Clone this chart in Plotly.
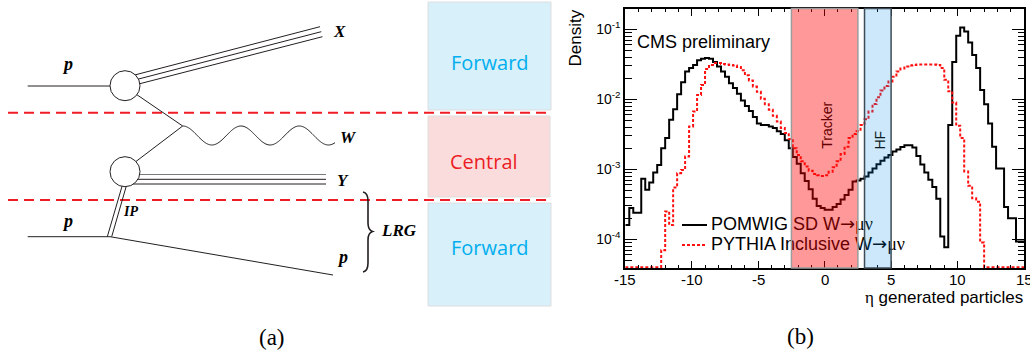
import numpy as np
import plotly.graph_objects as go

# ---------------- data ----------------
ETA_MIN, ETA_MAX, BIN_WIDTH = -15.0, 15.0, 0.3
N_BINS = 100

POMWIG_SD = [
    1.6e-4, 2.8e-4, 2.4e-4, 2.4e-4, 7.3e-4, 5.1e-4, 6.5e-4, 9.0e-4, 1.15e-3, 2.0e-3,
    2.8e-3, 5.1e-3, 7.2e-3, 1.18e-2, 1.75e-2, 2.5e-2, 2.8e-2, 3.1e-2, 3.6e-2, 3.8e-2,
    3.9e-2, 3.8e-2, 3.4e-2, 2.95e-2, 2.5e-2, 2.1e-2, 1.7e-2, 1.45e-2, 1.2e-2, 9.6e-3,
    8.0e-3, 6.8e-3, 5.6e-3, 4.5e-3, 4.3e-3, 4.3e-3, 4.1e-3, 3.9e-3, 3.5e-3, 3.2e-3,
    2.6e-3, 2.0e-3, 1.5e-3, 1.2e-3, 8.8e-4, 6.8e-4, 5.2e-4, 3.8e-4, 3.0e-4, 2.8e-4,
    2.65e-4, 2.65e-4, 2.9e-4, 3.2e-4, 3.7e-4, 4.3e-4, 5.1e-4, 6.7e-4, 6.9e-4, 7.3e-4,
    7.9e-4, 9.0e-4, 1.03e-3, 1.18e-3, 1.33e-3, 1.48e-3, 1.6e-3, 1.8e-3, 1.92e-3, 2.08e-3,
    2.2e-3, 2.2e-3, 2.05e-3, 1.55e-3, 1.17e-3, 9.0e-4, 7.1e-4, 5.6e-4, 3.8e-4, 1.1e-4,
    7.7e-5, 4.3e-3, 3.4e-2, 8.1e-2, 1.06e-1, 9.3e-2, 6.5e-2, 4.3e-2, 2.8e-2, 1.36e-2,
    8.5e-3, 4.5e-3, 2.1e-3, 1.03e-3, 1.03e-3, 2.9e-4, 2.0e-4, 2.0e-4, 9.3e-5, 9.3e-5,
]

PYTHIA_INCL = [
    0, 0, 0, 0, 0, 0, 0, 0, 0, 7.0e-5,
    2.5e-4, 1.6e-4, 5.5e-4, 8.8e-4, 9.8e-4, 1.52e-3, 4.1e-3, 6.7e-3, 1.15e-2, 1.6e-2,
    2.7e-2, 3.1e-2, 3.3e-2, 3.3e-2, 3.2e-2, 3.15e-2, 3.1e-2, 3.05e-2, 2.9e-2, 2.6e-2,
    2.2e-2, 1.85e-2, 1.52e-2, 1.28e-2, 1.02e-2, 8.5e-3, 7.1e-3, 5.8e-3, 4.8e-3, 3.9e-3,
    3.3e-3, 2.7e-3, 2.0e-3, 1.6e-3, 1.3e-3, 1.1e-3, 9.5e-4, 8.6e-4, 8.2e-4, 8.0e-4,
    8.2e-4, 9.2e-4, 1.07e-3, 1.3e-3, 1.65e-3, 2.1e-3, 2.8e-3, 3.2e-3, 3.5e-3, 4.3e-3,
    5.2e-3, 6.7e-3, 8.6e-3, 1.07e-2, 1.33e-2, 1.55e-2, 1.8e-2, 2.1e-2, 2.5e-2, 2.75e-2,
    2.95e-2, 3.05e-2, 3.1e-2, 3.15e-2, 3.15e-2, 3.15e-2, 3.15e-2, 3.15e-2, 3.1e-2, 2.8e-2,
    1.9e-2, 1.3e-2, 9.0e-3, 4.2e-3, 2.8e-3, 9.3e-4, 5.8e-4, 3.85e-4, 3.45e-4, 9.0e-5,
    0, 0, 0, 0, 0, 0, 0, 0, 0, 0,
]

SERIES_NAMES = ["POMWIG SD W", "PYTHIA Inclusive W"]
X_TICKS = [-15, -10, -5, 0, 5, 10, 15]
X_TICK_TEXT = ["-15", "-10", "-5", "0", "5", "10", "15"]
Y_TICKS = [1e-4, 1e-3, 1e-2, 1e-1]
Y_TICK_TEXT = ["10<sup>-4</sup>", "10<sup>-3</sup>", "10<sup>-2</sup>", "10<sup>-1</sup>"]
TRACKER_RANGE = (-2.5, 2.5)
HF_RANGE = (3.0, 5.0)

# ---------------- layout constants ----------------
W, H = 1030, 360
PX_L, PX_R, PX_T, PX_B = 625.3, 1024.0, 8.5, 268.0
LOG_MIN, LOG_MAX = -4.41, -0.703

edges = np.round(ETA_MIN + BIN_WIDTH * np.arange(N_BINS + 1), 2)
floor_val = 10 ** (LOG_MIN + 0.012)


def step_y(vals):
    v = np.array(vals, dtype=float)
    v = np.where(v > 0, v, floor_val)
    return np.append(v, v[-1])


fig = go.Figure()

fig.add_trace(go.Scatter(x=edges, y=step_y(POMWIG_SD), mode="lines", line_shape="hv",
                         line=dict(color="black", width=2), showlegend=False,
                         xaxis="x", yaxis="y"))
fig.add_trace(go.Scatter(x=edges, y=step_y(PYTHIA_INCL), mode="lines", line_shape="hv",
                         line=dict(color="#ff1010", width=2, dash="3px,2px"), showlegend=False,
                         xaxis="x", yaxis="y"))

# legend drawn in pixel overlay (so that the bands tint it like the original)
DECAY = ("<span style='font-family:DejaVu Sans'>\u2192</span>"
         "<span style='font-family:Liberation Serif'>\u03bc\u03bd</span>")
fig.add_trace(go.Scatter(x=[682, 707], y=[225, 225], mode="lines",
                         line=dict(color="black", width=2), showlegend=False,
                         xaxis="x2", yaxis="y2"))
fig.add_trace(go.Scatter(x=[682, 707], y=[245, 245], mode="lines",
                         line=dict(color="#ff1010", width=2, dash="3px,2px"), showlegend=False,
                         xaxis="x2", yaxis="y2"))
fig.add_trace(go.Scatter(x=[711, 711], y=[225, 245], mode="text",
                         text=[SERIES_NAMES[0] + DECAY, SERIES_NAMES[1] + DECAY],
                         textposition="middle right",
                         textfont=dict(family="Liberation Sans", size=18, color="black"),
                         showlegend=False, xaxis="x2", yaxis="y2"))

minor_y = [d * 10.0 ** e for e in range(-5, 0) for d in range(2, 10)]

fig.update_layout(
    width=W, height=H, margin=dict(l=0, r=0, t=0, b=0),
    paper_bgcolor="white", plot_bgcolor="rgba(0,0,0,0)",
    showlegend=False,
    xaxis=dict(domain=[PX_L / W, PX_R / W], range=[ETA_MIN, ETA_MAX], anchor="y",
               tickmode="array", tickvals=X_TICKS, showticklabels=False,
               ticks="inside", ticklen=7, tickwidth=1, tickcolor="black",
               showline=True, linecolor="black", linewidth=2, mirror="allticks",
               showgrid=False, zeroline=False,
               minor=dict(tickmode="array", tickvals=list(range(-15, 16)), ticks="inside",
                          ticklen=3.5, tickwidth=1, tickcolor="black", showgrid=False),
               fixedrange=True),
    yaxis=dict(type="log", domain=[1 - PX_B / H, 1 - PX_T / H], range=[LOG_MIN, LOG_MAX],
               anchor="x", tickmode="array", tickvals=Y_TICKS, ticktext=Y_TICK_TEXT,
               ticks="inside", ticklen=12, tickwidth=1, tickcolor="black",
               showline=True, linecolor="black", linewidth=2, mirror="allticks",
               showgrid=False, zeroline=False,
               tickfont=dict(family="Liberation Sans", size=14, color="black"),
               minor=dict(tickmode="array", tickvals=minor_y, ticks="inside",
                          ticklen=6.5, tickwidth=1, tickcolor="black", showgrid=False),
               fixedrange=True),
    xaxis2=dict(domain=[0, 1], range=[0, W], visible=False, anchor="y2", fixedrange=True),
    yaxis2=dict(domain=[0, 1], range=[H, 0], visible=False, anchor="x2", fixedrange=True),
)

shapes = []
# detector bands (semi-transparent, on top of histogram)
shapes.append(dict(type="rect", xref="x", yref="y domain", x0=TRACKER_RANGE[0], x1=TRACKER_RANGE[1],
                   y0=0, y1=1, fillcolor="rgba(255,0,0,0.4)",
                   line=dict(color="#9c9c9c", width=1.5), layer="above"))
shapes.append(dict(type="rect", xref="x", yref="y domain", x0=HF_RANGE[0], x1=HF_RANGE[1],
                   y0=0, y1=1, fillcolor="rgba(0,140,230,0.2)",
                   line=dict(color="#3e4c57", width=1.5), layer="above"))


# ---- left panel: boxes ----
def px_rect(x0, y0, x1, y1, fill, line="#dedede"):
    return dict(type="rect", xref="x2", yref="y2", x0=x0, x1=x1, y0=y0, y1=y1,
                fillcolor=fill, line=dict(color=line, width=1), layer="above")


shapes.append(px_rect(428, 2, 551, 110, "#d7f0fa"))
shapes.append(px_rect(428, 116, 550, 197, "#fadcdc"))
shapes.append(px_rect(428, 203, 551, 306, "#d7f0fa"))

# red dashed separators
for yy in (112.7, 200.0):
    shapes.append(dict(type="line", xref="x2", yref="y2", x0=8, x1=552, y0=yy, y1=yy,
                       line=dict(color="#ee1c25", width=2, dash="10px,6px"), layer="above"))

INK = "#231f20"


def px_line(x0, y0, x1, y1, color=INK, width=1.0):
    return dict(type="line", xref="x2", yref="y2", x0=x0, y0=y0, x1=x1, y1=y1,
                line=dict(color=color, width=width), layer="above")


# incoming protons
shapes.append(px_line(27.7, 86, 125, 86))
shapes.append(px_line(27.7, 236.7, 110, 236.7))
# outgoing proton
shapes.append(px_line(110, 236.7, 333, 275))
# X triple line
for dy in (0, 5, 10):
    shapes.append(px_line(125, 77.5 + dy, 320 + dy * 0.25, 26.7 + dy))
# Y triple line
for yy, col in ((174.5, "#7a7a7a"), (179.3, INK), (184.0, INK)):
    shapes.append(px_line(125, yy, 326, yy, color=col))
# propagators to W vertex
shapes.append(px_line(130, 90, 182.7, 126))
shapes.append(px_line(182.7, 126, 130, 166))
# pomeron double line
shapes.append(px_line(122.7, 184, 107.3, 236.7))
shapes.append(px_line(126.9, 184, 111.7, 236.7))
# blobs
for cy in (85.7, 171.7):
    shapes.append(dict(type="circle", xref="x2", yref="y2", x0=110, x1=140, y0=cy - 15, y1=cy + 15,
                       fillcolor="white", line=dict(color=INK, width=1), layer="above"))
# W boson wavy line
wx = np.linspace(182.7, 335, 160)
wy = 135.5 - 9.5 * np.cos(2 * np.pi * (wx - 182.7) / 58.3)
wpath = "M " + " L ".join(f"{a:.2f},{b:.2f}" for a, b in zip(wx, wy))
shapes.append(dict(type="path", xref="x2", yref="y2", path=wpath,
                   line=dict(color=INK, width=1), layer="above"))
# brace for LRG
shapes.append(dict(type="path", xref="x2", yref="y2",
                   path="M 363,192 Q 368,193 368,201 L 368,223 Q 368,230 372.5,231.5 "
                        "Q 368,233 368,240 L 368,263 Q 368,271 363,272",
                   line=dict(color=INK, width=1.6), layer="above"))

fig.update_layout(shapes=shapes)

ann = []


def px_text(x, y, text, size, color="black", family="Liberation Sans", xanchor="center",
            angle=0, yanchor="middle", xref="x2"):
    ann.append(dict(x=x, y=y, xref=xref, yref="y2", text=text, showarrow=False,
                    xanchor=xanchor, yanchor=yanchor, textangle=angle,
                    font=dict(family=family, size=size, color=color)))


SER = "Liberation Serif"
px_text(67, 64, "<b><i>p</i></b>", 18, family=SER)
px_text(339, 31, "<b><i>X</i></b>", 17, family=SER)
px_text(348, 137, "<b><i>W</i></b>", 17, family=SER)
px_text(342.5, 180, "<b><i>Y</i></b>", 17, family=SER)
px_text(130.5, 211, "<b><i>IP</i></b>", 14, family=SER)
px_text(67, 220.5, "<b><i>p</i></b>", 18, family=SER)
px_text(342, 257, "<b><i>p</i></b>", 18, family=SER)
px_text(399, 230, "<b><i>LRG</i></b>", 17, family=SER)

px_text(490, 62, "Forward", 20, color="#00aeef", family="Open Sans")
px_text(484, 161.5, "Central", 20, color="#ed1c24", family="Open Sans")
px_text(490, 247.5, "Forward", 20, color="#00aeef", family="Open Sans")

px_text(272, 337, "(a)", 23, family=SER)
px_text(800, 336, "(b)", 23, family=SER)

# right panel texts
for tv, tt in zip(X_TICKS, X_TICK_TEXT):
    px_text(tv, 279, tt, 15, xref="x")
px_text(635, 42, "CMS preliminary", 18, xanchor="left")
px_text(575, 38.5, "Density", 17, angle=-90)
px_text(1025, 297, "<span style='font-family:Liberation Serif'>\u03b7</span> generated particles",
        17, xanchor="right")
px_text(826.7, 125, "Tracker", 14, color="#660000", angle=-90)
px_text(879.5, 140, "HF", 14, color="#0d1d28", angle=-90)

fig.update_layout(annotations=ann)

fig.write_html("out.html")
